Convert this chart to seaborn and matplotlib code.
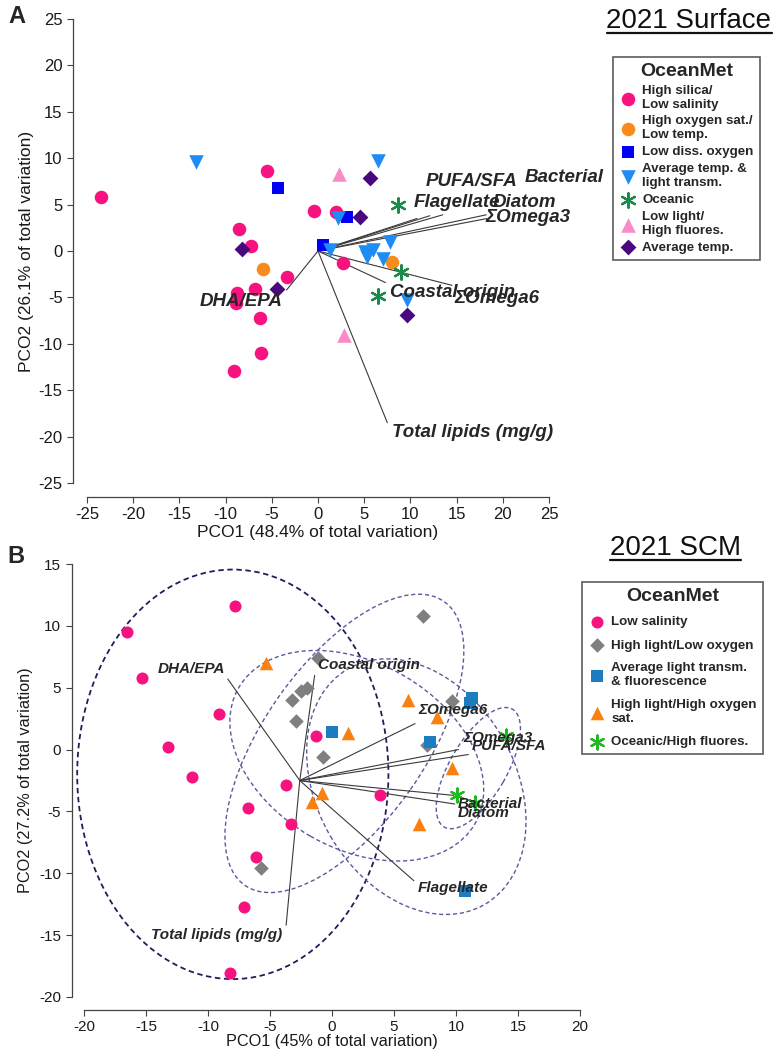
import numpy as np
import pandas as pd
import matplotlib
matplotlib.use("Agg")
import matplotlib.pyplot as plt
import seaborn as sns
from matplotlib.patches import Ellipse
from matplotlib.lines import Line2D

# ---------------- Panel A : 2021 Surface ----------------
a_groups = ["High silica/\nLow salinity", "High oxygen sat./\nLow temp.", "Low diss. oxygen",
            "Average temp. &\nlight transm.", "Oceanic", "Low light/\nHigh fluores.", "Average temp."]
a_counts = [14, 2, 3, 10, 3, 2, 5]
a_pco1 = [-23.5, -5.5, -0.4, 2.0, -8.6, -7.2, -3.4, 2.7, -8.8, -8.9, -6.8, -6.3, -6.2, -9.1,
          -5.9, 8.0,
          -4.3, 3.1, 0.5,
          -13.2, 6.5, 2.2, 7.8, 1.3, 5.1, 6.0, 5.3, 7.0, 9.6,
          8.7, 9.0, 6.5,
          2.3, 2.8,
          5.6, 4.5, -8.2, -4.4, 9.6]
a_pco2 = [5.8, 8.6, 4.3, 4.2, 2.4, 0.5, -2.8, -1.3, -4.5, -5.6, -4.1, -7.2, -11.0, -12.9,
          -1.9, -1.2,
          6.8, 3.7, 0.6,
          9.6, 9.7, 3.6, 1.0, 0.1, -0.1, 0.1, -0.6, -0.9, -5.3,
          5.0, -2.3, -4.9,
          8.3, -9.0,
          7.9, 3.7, 0.2, -4.1, -6.9]
a_vec_names = ["DHA/EPA", "Total lipids (mg/g)", "Coastal origin", "\u03a3Omega6", "PUFA/SFA",
               "Flagellate", "Diatom", "Bacterial", "\u03a3Omega3"]
a_vec_x = [-3.4, 7.5, 7.3, 14.5, 10.7, 12.1, 13.5, 18.2, 18.3]
a_vec_y = [-4.2, -18.5, -3.4, -3.7, 3.5, 3.8, 3.9, 3.9, 3.5]
a_xlabel = "PCO1 (48.4% of total variation)"
a_ylabel = "PCO2 (26.1% of total variation)"
a_ticks = [-25, -20, -15, -10, -5, 0, 5, 10, 15, 20, 25]

# ---------------- Panel B : 2021 SCM ----------------
b_groups = ["Low salinity", "High light/Low oxygen", "Average light transm.\n& fluorescence",
            "High light/High oxygen\nsat.", "Oceanic/High fluores."]
b_counts = [14, 10, 5, 8, 3]
b_pco1 = [-16.5, -7.8, -15.3, -9.1, -13.2, -11.3, -1.3, -3.7, -6.8, -3.3, -6.1, -7.1, -8.2, 3.9,
          -1.1, -2.0, -2.5, -3.2, -2.9, -0.7, -5.7, 7.7, 7.3, 9.7,
          0.0, 7.9, 11.3, 11.1, 10.7,
          -5.3, 1.3, -1.6, -0.8, 7.0, 9.7, 6.1, 8.5,
          10.1, 11.5, 14.0]
b_pco2 = [9.5, 11.6, 5.8, 2.9, 0.2, -2.2, 1.1, -2.9, -4.7, -6.0, -8.7, -12.7, -18.1, -3.7,
          7.4, 5.0, 4.7, 4.0, 2.3, -0.6, -9.6, 0.4, 10.8, 3.9,
          1.4, 0.6, 4.2, 3.8, -11.4,
          7.0, 1.3, -4.2, -3.5, -6.0, -1.5, 4.0, 2.6,
          -3.7, -4.3, 1.1]
# group ellipses (one per group, in data units)
b_ell_cx = [-8.0, 1.0, 6.8, 2.0, 11.8]
b_ell_cy = [-2.0, 0.5, -3.0, -0.5, -1.5]
b_ell_w = [25.1, 28.0, 22.0, 22.0, 11.0]
b_ell_h = [33.1, 13.0, 16.0, 15.0, 4.6]
b_ell_angle = [0, 55, -60, -30, 60]
b_vec_names = ["DHA/EPA", "Coastal origin", "\u03a3Omega6", "\u03a3Omega3", "PUFA/SFA",
               "Bacterial", "Diatom", "Flagellate", "Total lipids (mg/g)"]
b_vec_origin = (-2.6, -2.5)
b_vec_x = [-8.4, -1.4, 6.7, 10.2, 11.0, 9.8, 9.9, 6.6, -3.7]
b_vec_y = [5.7, 6.0, 2.1, 0.0, -0.4, -3.7, -4.4, -10.6, -14.2]
b_xlabel = "PCO1 (45% of total variation)"
b_ylabel = "PCO2 (27.2% of total variation)"
b_xticks = [-20, -15, -10, -5, 0, 5, 10, 15, 20]
b_yticks = [-20, -15, -10, -5, 0, 5, 10, 15]

# ---------------- styles ----------------
a_style = {
    a_groups[0]: dict(color="#F7127F", marker="o", s=95),
    a_groups[1]: dict(color="#F98A1C", marker="o", s=95),
    a_groups[2]: dict(color="#0000F5", marker="s", s=80),
    a_groups[3]: dict(color="#1E8CF5", marker="v", s=110),
    a_groups[4]: dict(color="#1B8A4A", marker=(6, 2, 0), s=110),
    a_groups[5]: dict(color="#F98CC6", marker="^", s=110),
    a_groups[6]: dict(color="#4A087E", marker="D", s=65),
}
b_style = {
    b_groups[0]: dict(color="#F7127F", marker="o", s=75),
    b_groups[1]: dict(color="#7F7F7F", marker="D", s=55),
    b_groups[2]: dict(color="#1C7CC0", marker="s", s=75),
    b_groups[3]: dict(color="#FA8010", marker="^", s=95),
    b_groups[4]: dict(color="#22B822", marker=(6, 2, 0), s=100),
}
a_label_pos = {
    "DHA/EPA": (-3.8, -5.4, "right"), "Total lipids (mg/g)": (8.0, -19.6, "left"),
    "Coastal origin": (7.8, -4.5, "left"), "\u03a3Omega6": (14.8, -5.1, "left"),
    "PUFA/SFA": (11.6, 7.5, "left"), "Flagellate": (10.3, 5.2, "left"),
    "Diatom": (18.9, 5.2, "left"), "Bacterial": (22.4, 7.9, "left"),
    "\u03a3Omega3": (18.1, 3.6, "left"),
}
b_label_pos = {
    "DHA/EPA": (-8.6, 6.5, "right"), "Coastal origin": (-1.1, 6.8, "left"),
    "\u03a3Omega6": (7.0, 3.2, "left"), "\u03a3Omega3": (10.6, 0.9, "left"),
    "PUFA/SFA": (11.3, 0.3, "left"), "Bacterial": (10.1, -4.4, "left"),
    "Diatom": (10.1, -5.1, "left"), "Flagellate": (6.9, -11.2, "left"),
    "Total lipids (mg/g)": (-4.0, -15.0, "right"),
}

sns.set_theme(style="ticks")
plt.rcParams["font.family"] = ["Liberation Sans", "DejaVu Sans"]
plt.rcParams["axes.edgecolor"] = "#444444"
plt.rcParams["axes.unicode_minus"] = False

W, H = 776, 1051
fig = plt.figure(figsize=(W / 100, H / 100), dpi=100)
axA = fig.add_axes([87 / W, 1 - 483 / H, 462 / W, 464 / H])
axB = fig.add_axes([84 / W, 1 - 997 / H, 496 / W, 433 / H])

dfA = pd.DataFrame({"PCO1": a_pco1, "PCO2": a_pco2,
                    "group": np.repeat(a_groups, a_counts)})
dfB = pd.DataFrame({"PCO1": b_pco1, "PCO2": b_pco2,
                    "group": np.repeat(b_groups, b_counts)})


def draw_points(ax, df, groups, styles):
    for g in groups:
        st = styles[g]
        sub = df[df["group"] == g]
        kw = dict(linewidth=0)
        if not isinstance(st["marker"], str):
            kw = dict(linewidth=1.6)
        sns.scatterplot(data=sub, x="PCO1", y="PCO2", color=st["color"], marker=st["marker"],
                        s=st["s"], ax=ax, label=g, legend=False, zorder=3, **kw)


def style_axes(ax, xticks, yticks, xlim, ylim, xlabel, ylabel, tsize, lsize, ylx, xly, off):
    ax.set_xlim(*xlim)
    ax.set_ylim(*ylim)
    ax.set_xticks(xticks)
    ax.set_yticks(yticks)
    sns.despine(ax=ax, offset=off)
    ax.tick_params(direction="out", length=4, width=0.8, colors="#444444",
                   labelcolor="#1a1a1a", labelsize=tsize)
    for sp in ("left", "bottom"):
        ax.spines[sp].set_linewidth(0.9)
    ax.set_xlabel(xlabel, fontsize=lsize, color="#1a1a1a")
    ax.set_ylabel(ylabel, fontsize=lsize, color="#1a1a1a")
    ax.yaxis.set_label_coords(ylx, 0.5)
    ax.xaxis.set_label_coords(0.5, xly)
    ax.set_facecolor("none")


# ---- Panel A ----
for name, ex, ey in zip(a_vec_names, a_vec_x, a_vec_y):
    axA.plot([0, ex], [0, ey], color="#3a3a3a", lw=0.8, zorder=2)
draw_points(axA, dfA, a_groups, a_style)
for name in a_vec_names:
    lx, ly, ha = a_label_pos[name]
    axA.text(lx, ly, name, fontsize=13.5, fontweight="bold", fontstyle="italic",
             ha=ha, va="center", zorder=4, clip_on=False)
style_axes(axA, a_ticks, a_ticks, (-25, 25), (-25, 25), a_xlabel, a_ylabel,
           12, 12.5, -0.115, -0.09, 10)

# ---- Panel B ----
for i in range(len(b_groups)):
    dark = i == 0
    axB.add_patch(Ellipse((b_ell_cx[i], b_ell_cy[i]), b_ell_w[i], b_ell_h[i],
                          angle=b_ell_angle[i], fill=False, clip_on=False,
                          edgecolor="#1E1E5A" if dark else "#5A5A9E",
                          lw=1.3 if dark else 1.0, linestyle=(0, (3, 2)), zorder=1))
ox, oy = b_vec_origin
for name, ex, ey in zip(b_vec_names, b_vec_x, b_vec_y):
    axB.plot([ox, ex], [oy, ey], color="#3a3a3a", lw=0.8, zorder=2)
draw_points(axB, dfB, b_groups, b_style)
for name in b_vec_names:
    lx, ly, ha = b_label_pos[name]
    axB.text(lx, ly, name, fontsize=11, fontweight="bold", fontstyle="italic",
             ha=ha, va="center", zorder=4, clip_on=False)
style_axes(axB, b_xticks, b_yticks, (-20, 20), (-20, 15), b_xlabel, b_ylabel,
           11, 11.7, -0.103, -0.085, 9)

# ---- legends ----
hA, lA = axA.get_legend_handles_labels()
legA = axA.legend(hA, lA, loc="upper left", bbox_to_anchor=(613 / W, 1 - 57 / H),
                  bbox_transform=fig.transFigure, title="OceanMet",
                  title_fontproperties={"weight": "bold", "size": 14},
                  prop={"weight": "bold", "size": 9.6}, frameon=True, fancybox=False,
                  edgecolor="#333333", borderpad=0.45, labelspacing=0.36,
                  handletextpad=0.35, handlelength=1.4, borderaxespad=0)
legA.get_frame().set_linewidth(1.2)
hB, lB = axB.get_legend_handles_labels()
legB = axB.legend(hB, lB, loc="upper left", bbox_to_anchor=(582 / W, 1 - 582 / H),
                  bbox_transform=fig.transFigure, title="OceanMet",
                  title_fontproperties={"weight": "bold", "size": 14},
                  prop={"weight": "bold", "size": 9.6}, frameon=True, fancybox=False,
                  edgecolor="#333333", borderpad=0.45, labelspacing=0.82,
                  handletextpad=0.35, handlelength=1.4, borderaxespad=0)
legB.get_frame().set_linewidth(1.2)

# ---- panel letters and underlined titles ----
fig.text(8 / W, 1 - 23 / H, "A", fontsize=17, fontweight="bold")
fig.text(7 / W, 1 - 563 / H, "B", fontsize=17, fontweight="bold")


def underlined(xc, ybase, s, size):
    t = fig.text(xc, ybase, s, fontsize=size, ha="center", va="baseline", color="#111111")
    fig.canvas.draw()
    bb = t.get_window_extent().transformed(fig.transFigure.inverted())
    fig.add_artist(Line2D([bb.x0, bb.x1], [bb.y0 + 0.001, bb.y0 + 0.001],
                          transform=fig.transFigure, color="#111111", lw=1.6))


underlined(689 / W, 1 - 28 / H, "2021 Surface", 20)
underlined(675 / W, 1 - 555 / H, "2021 SCM", 20)

fig.savefig("out.png", dpi=100)
